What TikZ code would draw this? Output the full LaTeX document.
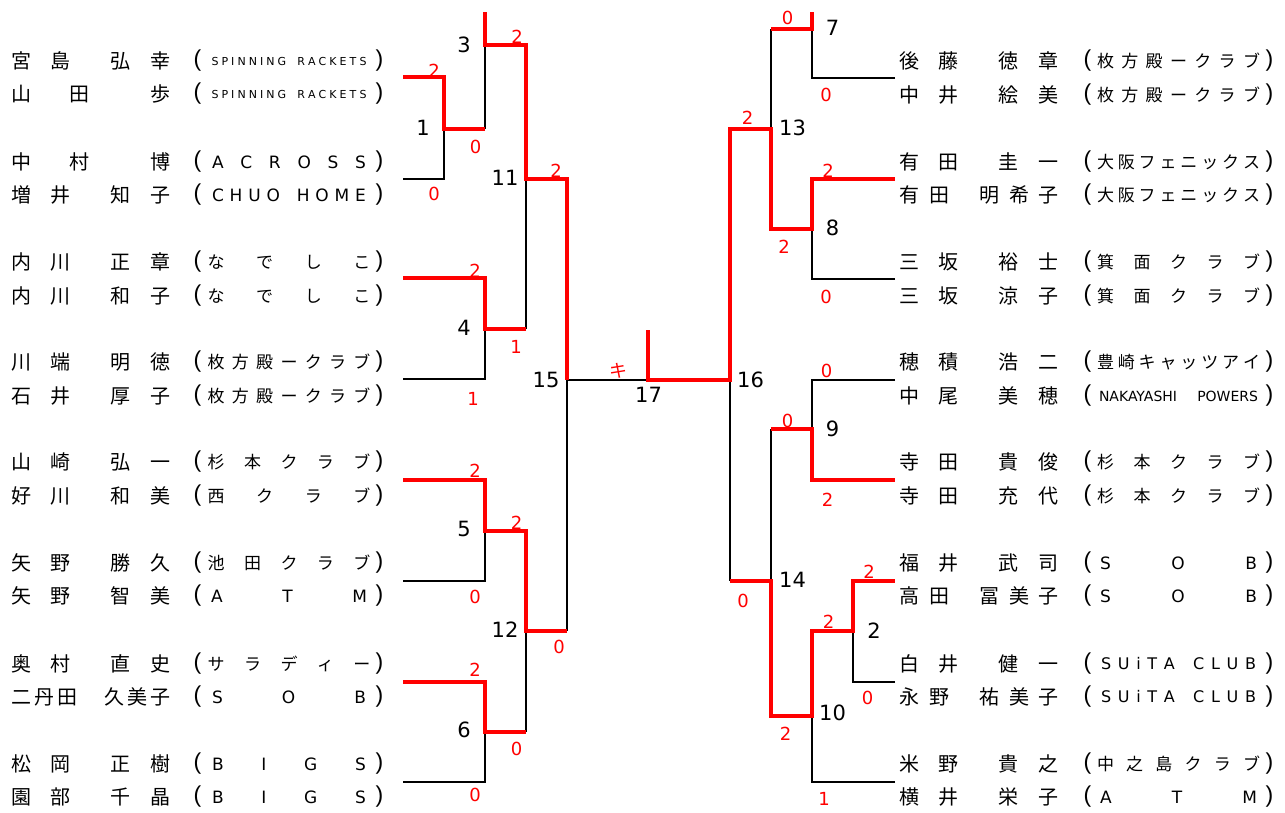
\documentclass[tikz,border=0pt]{standalone}
\usepackage{fontspec}
\setmainfont{DejaVu Sans}
\newfontfamily\jp{Noto Sans CJK JP}
\newfontfamily\dv{DejaVu Sans}
\newfontfamily\lib{Liberation Sans}
\makeatletter
\def\spread#1{\spread@a#1\relax}
\def\spread@a#1#2{#1\ifx#2\relax\else\hfill\expandafter\spread@a\expandafter#2\fi}
\makeatother
\newcommand\wg{\hspace{5pt}}
\newcommand\jcl[1]{{\jp\fontsize{17}{17}\selectfont\makebox[163pt]{\spread{#1}}}}
\newcommand\lcl[3]{{\dv\fontsize{#1}{#1}\selectfont\makebox[#2pt]{\spread{#3}}}}
\newcommand\nf[4]{#1\hspace{19pt}#2\hspace{40pt}#3\hspace{20pt}#4}
\newcommand\nt[3]{#1\hspace{38pt}#2\hspace{61pt}#3}
\newcommand\rowL[4]{%
  \node[nm] (#1n) at (11,#2) {#3};
  \node[pr] (#1o) at (197.5,#2) {(};
  \node[pr] (#1c) at (379.5,#2) {)};
  \node[cl] (#1k) at (289,#2) {#4};}
\newcommand\rowR[4]{%
  \node[nm] (#1n) at (899.5,#2) {#3};
  \node[pr] (#1o) at (1087.5,#2) {(};
  \node[pr] (#1c) at (1269.5,#2) {)};
  \node[cl] (#1k) at (1178.5,#2) {#4};}
\begin{document}
\begin{tikzpicture}[x=1pt,y=-1pt,
  nm/.style={anchor=west, inner sep=0pt, font=\jp\fontsize{20}{20}\selectfont},
  pr/.style={inner sep=0pt, font=\lib\fontsize{23}{23}\selectfont},
  cl/.style={inner sep=0pt},
  sc/.style={inner sep=0pt, text=red, font=\dv\fontsize{18}{18}\selectfont},
  mn/.style={inner sep=0pt, font=\dv\fontsize{21}{21}\selectfont},
  bk/.style={line width=2pt, black},
  rd/.style={line width=4.8pt, red}]
\useasboundingbox (0,0) rectangle (1285,812);
\fill[white] (0,0) rectangle (1285,812);

% ---------- coordinates ----------
\coordinate (LA) at (403,77);  \coordinate (LB) at (403,179);
\coordinate (LC) at (403,278); \coordinate (LD) at (403,379);
\coordinate (LE) at (403,480); \coordinate (LF) at (403,581);
\coordinate (LG) at (403,682); \coordinate (LH) at (403,782);
\coordinate (m1) at (444,129);
\coordinate (topL) at (485,12); \coordinate (m3) at (485,45);
\coordinate (m4) at (485,329);  \coordinate (m11) at (526,179);
\coordinate (m5) at (485,531);  \coordinate (m6) at (485,732);
\coordinate (m12) at (526,631); \coordinate (m15) at (567,380);
\coordinate (f17) at (648,380); \coordinate (champ) at (648,330);
\coordinate (RA) at (895,78);  \coordinate (RB) at (895,179);
\coordinate (RC) at (895,279); \coordinate (RD) at (895,380);
\coordinate (RE) at (895,480); \coordinate (RF) at (895,581);
\coordinate (RG) at (895,682); \coordinate (RH) at (895,782);
\coordinate (topR) at (812,12); \coordinate (m7) at (812,29);
\coordinate (m8) at (812,229);  \coordinate (m13) at (771,129);
\coordinate (m9) at (812,429);  \coordinate (m2) at (853,631);
\coordinate (m10) at (812,716); \coordinate (m14) at (771,581);
\coordinate (m16) at (730,380);

% ---------- black lines ----------
\draw[bk] (LB) -| (m1);
\draw[bk] (m3) -- (m3 |- m1);
\draw[bk] (m11) -- (m11 |- m4);
\draw[bk] (LD) -| (m4);
\draw[bk] (m15) -- (m15 |- m12);
\draw[bk] (m15) -- (f17);
\draw[bk] (LF) -| (m5);
\draw[bk] (m12) -- (m12 |- m6);
\draw[bk] (LH) -| (m6);
\draw[bk] (RA) -| (m7);
\draw[bk] (m13 |- m7) -- (m13);
\draw[bk] (RC) -| (m8);
\draw[bk] (m16) -- (m16 |- m14);
\draw[bk] (RD) -| (m9);
\draw[bk] (m14 |- m9) -- (m14);
\draw[bk] (RG) -| (m2);
\draw[bk] (RH) -| (m10);

% ---------- red lines ----------
\draw[rd] (LA) -| (m1) -- (m1 -| m3);
\draw[rd] (topL) -- (m3) -| (m11) -| (m15);
\draw[rd] (LC) -| (m4) -- (m4 -| m11);
\draw[rd] (LE) -| (m5) -| (m12) -- (m12 -| m15);
\draw[rd] (LG) -| (m6) -- (m6 -| m12);
\draw[rd] (champ) -- (f17) -- (m16) |- (m13) |- (m8) |- (RB);
\draw[rd] (m13 |- m7) -- (m7) -- (topR);
\draw[rd] (m14 |- m9) -- (m9) |- (RE);
\draw[rd] (m16 |- m14) -- (m14) |- (m10) |- (m2) |- (RF);

% ---------- match numbers ----------
\node[mn] (n1) at (423,127.5) {1};
\node[mn] (n3) at (464,44.5) {3};
\node[mn] (n11) at (505,177.5) {11};
\node[mn] (n4) at (464,327.5) {4};
\node[mn] (n15) at (546,379.5) {15};
\node[mn] (n5) at (464,528.5) {5};
\node[mn] (n12) at (505,629.5) {12};
\node[mn] (n6) at (464,729.5) {6};
\node[mn] (n17) at (648.5,395) {17};
\node[mn] (n7) at (832.5,27.5) {7};
\node[mn] (n13) at (792.5,127.5) {13};
\node[mn] (n8) at (832.5,227.5) {8};
\node[mn] (n16) at (750.5,379.5) {16};
\node[mn] (n9) at (832.5,428.5) {9};
\node[mn] (n14) at (792.5,580) {14};
\node[mn] (n2) at (874,630.5) {2};
\node[mn] (n10) at (832.5,712.5) {10};

% ---------- scores ----------
\node[sc] (s1a) at (434,71) {2};
\node[sc] (s1b) at (434,193.5) {0};
\node[sc] (s3b) at (475.5,146.5) {0};
\node[sc] (s3a) at (517,37) {2};
\node[sc] (s11a) at (556,171) {2};
\node[sc] (s4a) at (475,271) {2};
\node[sc] (s11b) at (516,346.5) {1};
\node[sc] (s4b) at (473,398.5) {1};
\node[sc] (s5a) at (475,471) {2};
\node[sc] (s12a) at (516.5,523) {2};
\node[sc] (s5b) at (475,597) {0};
\node[sc] (s15b) at (559,647) {0};
\node[sc] (s6a) at (475,670) {2};
\node[sc] (s12b) at (516.5,748.5) {0};
\node[sc] (s6b) at (475,795) {0};
\node[sc, font=\jp\fontsize{18}{18}\selectfont] (s17) at (618,371) {キ};
\node[sc] (t7a) at (787.5,18) {0};
\node[sc] (t7b) at (826,95) {0};
\node[sc] (t13a) at (747.5,118) {2};
\node[sc] (t8a) at (828,171) {2};
\node[sc] (t13b) at (784,246.5) {2};
\node[sc] (t8b) at (826,296.5) {0};
\node[sc] (t9a) at (826.5,371) {0};
\node[sc] (t14a) at (787.5,420.5) {0};
\node[sc] (t9b) at (827.5,500) {2};
\node[sc] (t16b) at (743,600.5) {0};
\node[sc] (t2a) at (869,572) {2};
\node[sc] (t10a) at (828.5,622) {2};
\node[sc] (t2b) at (867.5,698) {0};
\node[sc] (t14b) at (785.5,733.5) {2};
\node[sc] (t10b) at (824,799) {1};

% ---------- left players ----------
\rowL{r1a}{61}{\nf{宮}{島}{弘}{幸}}{\lcl{11}{155}{SPINNING\wg RACKETS}}
\rowL{r1b}{94}{\nt{山}{田}{歩}}{\lcl{11}{155}{SPINNING\wg RACKETS}}
\rowL{r2a}{162}{\nt{中}{村}{博}}{\lcl{17}{154}{ACROSS}}
\rowL{r2b}{195}{\nf{増}{井}{知}{子}}{\lcl{17}{154}{CHUO\wg HOME}}
\rowL{r3a}{262}{\nf{内}{川}{正}{章}}{\jcl{なでしこ}}
\rowL{r3b}{296}{\nf{内}{川}{和}{子}}{\jcl{なでしこ}}
\rowL{r4a}{362}{\nf{川}{端}{明}{徳}}{\jcl{枚方殿ークラブ}}
\rowL{r4b}{396}{\nf{石}{井}{厚}{子}}{\jcl{枚方殿ークラブ}}
\rowL{r5a}{462}{\nf{山}{崎}{弘}{一}}{\jcl{杉本クラブ}}
\rowL{r5b}{496}{\nf{好}{川}{和}{美}}{\jcl{西クラブ}}
\rowL{r6a}{563}{\nf{矢}{野}{勝}{久}}{\jcl{池田クラブ}}
\rowL{r6b}{596}{\nf{矢}{野}{智}{美}}{\lcl{17}{156}{ATM}}
\rowL{r7a}{664}{\nf{奥}{村}{直}{史}}{\jcl{サラディー}}
\rowL{r7b}{697}{二\hspace{3pt}丹\hspace{3pt}田\hspace{27pt}久\hspace{3pt}美\hspace{3pt}子}{\lcl{17}{154}{SOB}}
\rowL{r8a}{764}{\nf{松}{岡}{正}{樹}}{\lcl{17}{154}{BIGS}}
\rowL{r8b}{797}{\nf{園}{部}{千}{晶}}{\lcl{17}{154}{BIGS}}

% ---------- right players ----------
\rowR{q1a}{61}{\nf{後}{藤}{徳}{章}}{\jcl{枚方殿ークラブ}}
\rowR{q1b}{95}{\nf{中}{井}{絵}{美}}{\jcl{枚方殿ークラブ}}
\rowR{q2a}{162}{\nf{有}{田}{圭}{一}}{\jcl{大阪フェニックス}}
\rowR{q2b}{195}{有\hspace{10pt}田\hspace{30pt}明\hspace{9.5pt}希\hspace{9.5pt}子}{\jcl{大阪フェニックス}}
\rowR{q3a}{262}{\nf{三}{坂}{裕}{士}}{\jcl{箕面クラブ}}
\rowR{q3b}{296}{\nf{三}{坂}{涼}{子}}{\jcl{箕面クラブ}}
\rowR{q4a}{362}{\nf{穂}{積}{浩}{二}}{\jcl{豊崎キャッツアイ}}
\rowR{q4b}{396}{\nf{中}{尾}{美}{穂}}{{\dv\fontsize{14}{14}\selectfont\makebox[159pt]{NAKAYASHI\hfill POWERS}}}
\rowR{q5a}{462}{\nf{寺}{田}{貴}{俊}}{\jcl{杉本クラブ}}
\rowR{q5b}{496}{\nf{寺}{田}{充}{代}}{\jcl{杉本クラブ}}
\rowR{q6a}{563}{\nf{福}{井}{武}{司}}{\lcl{17}{157}{SOB}}
\rowR{q6b}{596}{高\hspace{10pt}田\hspace{30pt}冨\hspace{9.5pt}美\hspace{9.5pt}子}{\lcl{17}{157}{SOB}}
\rowR{q7a}{664}{\nf{白}{井}{健}{一}}{\lcl{16}{155}{SUiTA\wg CLUB}}
\rowR{q7b}{697}{永\hspace{10pt}野\hspace{30pt}祐\hspace{9.5pt}美\hspace{9.5pt}子}{\lcl{16}{155}{SUiTA\wg CLUB}}
\rowR{q8a}{764}{\nf{米}{野}{貴}{之}}{\jcl{中之島クラブ}}
\rowR{q8b}{797}{\nf{横}{井}{栄}{子}}{\lcl{17}{157}{ATM}}
\end{tikzpicture}
\end{document}
